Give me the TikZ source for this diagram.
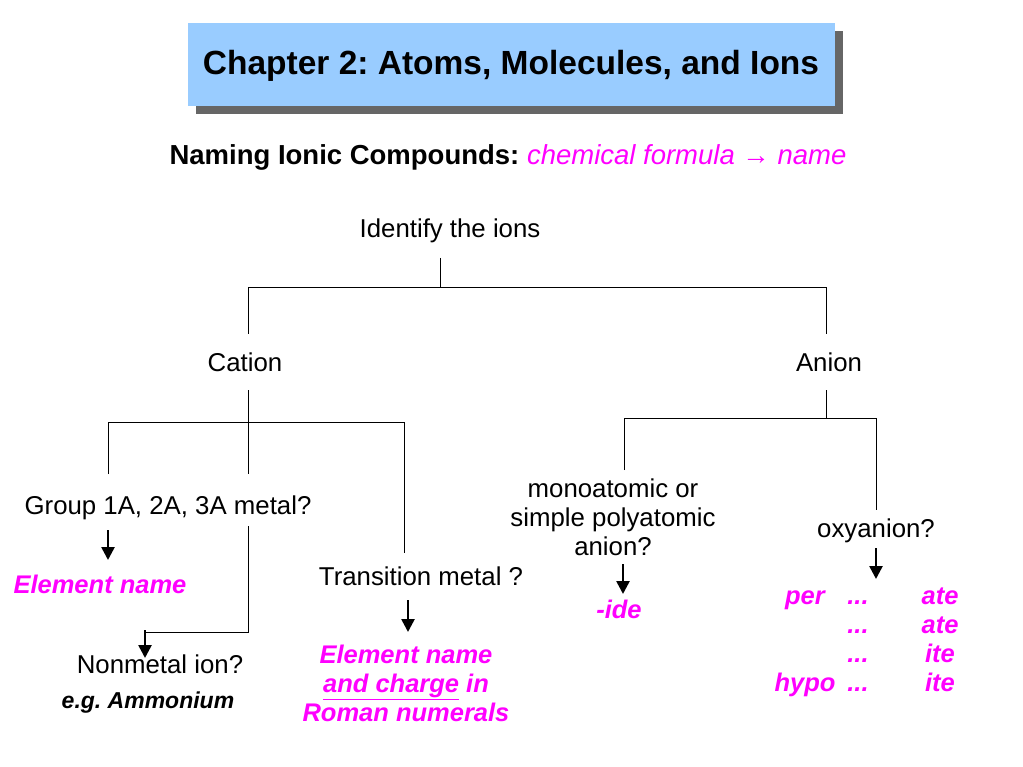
\documentclass[tikz,border=0pt]{standalone}
\usepackage{fontspec}
\setmainfont{Liberation Sans}
\frenchspacing
\usetikzlibrary{arrows.meta,positioning}
\definecolor{titleblue}{RGB}{153,204,255}
\definecolor{mag}{RGB}{255,0,255}
\tikzset{
    txt/.style={inner sep=0pt, font=\fontsize{25.8}{30}\selectfont},
    res/.style={inner sep=0pt, text=mag, font=\fontsize{25.5}{29}\selectfont\bfseries\itshape, align=center},
    cell/.style={res, text height=18pt, text depth=5pt},
    down/.style={line width=2.6pt, -{Triangle[length=13pt, width=13pt]}},
    link/.style={line width=0.8pt}
}
\begin{document}
\begin{tikzpicture}[x=1pt,y=-1pt]
    \useasboundingbox (0,0) rectangle (1023,767);
    % title
    \fill[gray!80!black] (196,31) rectangle (843,114);
    \fill[titleblue] (188,23) rectangle (835,106);
    \node[inner sep=0pt, font=\fontsize{33.5}{38}\selectfont\bfseries] (title) at (511,66) {Chapter 2: Atoms, Molecules, and Ions};
    \node[inner sep=0pt, font=\fontsize{27.5}{32}\selectfont] (sub) at (508,157) {\textbf{Naming Ionic Compounds:} \textcolor{mag}{\itshape chemical formula → name}};

    % tree nodes
    \node[txt] (ions) at (450,231) {Identify the ions};
    \node[txt] (cat) at (245,362) {Cation};
    \node[txt] (an) at (829,362) {Anion};
    \node[txt] (grp) at (168,508) {Group 1A, 2A, 3A metal?};
    \node[txt] (tm) at (421,576) {Transition metal ?};
    \node[txt] (nm) at (160,664) {Nonmetal ion?};
    \node[inner sep=0pt, font=\fontsize{23}{27}\selectfont\bfseries\itshape] (eg) at (148,703) {e.g. Ammonium};
    \node[txt, align=center, font=\fontsize{25.8}{29}\selectfont] (mono) at (613,517) {monoatomic or\\simple polyatomic\\anion?};
    \node[txt] (oxy) at (876,531) {oxyanion?};

    % junctions
    \coordinate (j0) at (440,287);
    \draw[link] (440,258) -- (j0);
    \draw[link] (248,334) |- (826,287) -- (826,334);
    \draw[link] (248,390) -- (248,474);
    \draw[link] (108,474) |- (404,422) -- (404,553);
    \draw[link] (248,526) -- (248,632) -- (145,632);
    \draw[down] (145,630) -- (145,658);
    \draw[link] (826,390) -- (826,418);
    \draw[link] (624,470) |- (876,418) -- (876,510);

    % arrows
    \draw[down] (108,530) -- (108,560);
    \draw[down] (408,600) -- (408,632);
    \draw[down] (623,564) -- (623,594);
    \draw[down] (876,548) -- (876,579);

    % results
    \node[res] (en) at (100,584) {Element name};
    \node[res] (ide) at (619,609) {-ide};
    \node[res] (roman) at (406,683) {Element name\\\underline{and charge} in\\Roman numerals};
    \foreach \y/\a/\b in {598/per/ate, 627//ate, 656//ite, 685/hypo/ite} {
        \node[cell] at (805,\y) {\a};
        \node[cell] at (858,\y) {...};
        \node[cell] at (940,\y) {\b};
    }
\end{tikzpicture}
\end{document}
